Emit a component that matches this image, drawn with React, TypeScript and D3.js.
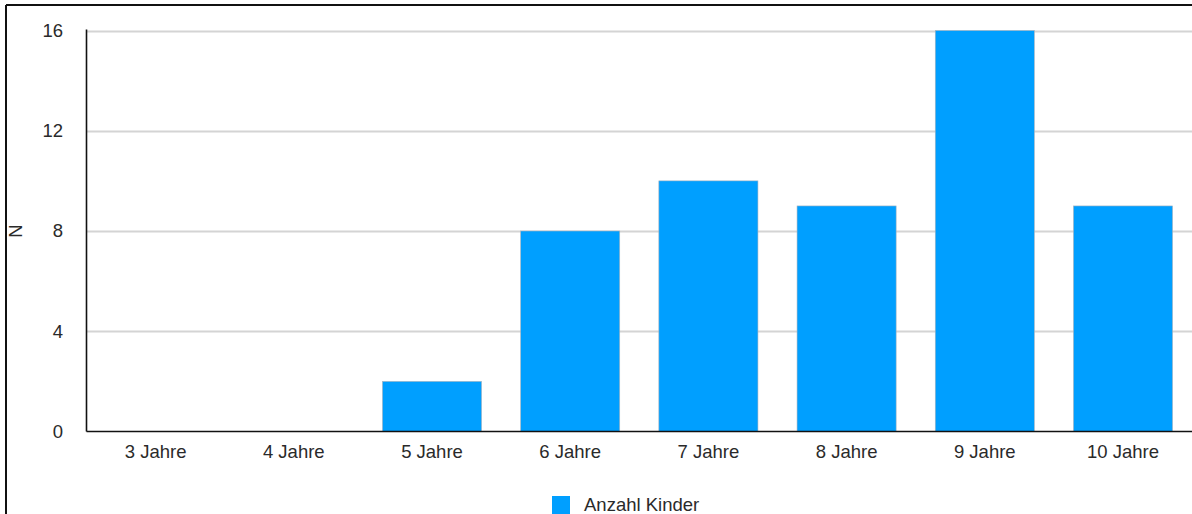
import React from "react";
import * as d3 from "d3";

const categories = ["3 Jahre", "4 Jahre", "5 Jahre", "6 Jahre", "7 Jahre", "8 Jahre", "9 Jahre", "10 Jahre"];
const values = [0, 0, 2, 8, 10, 9, 16, 9];
const yTicks = [0, 4, 8, 12, 16];
const seriesName = "Anzahl Kinder";
const yLabel = "N";

const W = 1192;
const H = 514;
const M = { left: 86.5, right: 2, top: 30.5, bottom: 83 };
const FONT = "'Liberation Sans', Arial, Helvetica, sans-serif";
const BAR = "#009FFF";
const FS = 18.5;

export default function App() {
  const x = d3.scaleBand<string>().domain(categories).range([M.left, M.left + 138.2 * 8]).paddingInner(0.283).paddingOuter(0.1415);
  const y = d3.scaleLinear().domain([0, 16]).range([H - M.bottom + 0.5, M.top]);
  return (
    <svg width={W} height={H} style={{ position: "absolute", left: 0, top: 0, background: "#fff" }} fontFamily={FONT}>
      {/* frame */}
      <line x1={6} x2={6} y1={5} y2={H} stroke="#111" strokeWidth={2} />
      <line x1={6} x2={W} y1={5} y2={5} stroke="#111" strokeWidth={2} />
      {/* grid */}
      {yTicks.filter(t => t > 0).map(t => (
        <line key={t} x1={M.left} x2={W} y1={Math.round(y(t)) + 0.5} y2={Math.round(y(t)) + 0.5} stroke="#d4d4d4" strokeWidth={2} />
      ))}
      {/* bars */}
      {categories.map((c, i) => values[i] > 0 && (
        <rect key={c} x={x(c)} y={y(values[i])} width={x.bandwidth()} height={y(0) - y(values[i])} fill={BAR} stroke="#a8b4bf" strokeWidth={0.6} />
      ))}
      {/* axes */}
      <line x1={M.left} x2={M.left} y1={M.top - 1} y2={y(0)} stroke="#111" strokeWidth={1.6} />
      <line x1={M.left} x2={W} y1={y(0)} y2={y(0)} stroke="#111" strokeWidth={1.6} />
      {yTicks.map(t => (
        <text key={t} x={63} y={y(t)} dy="0.35em" textAnchor="end" fontSize={FS} fill="#2a2a2a">{t}</text>
      ))}
      {categories.map(c => (
        <text key={c} x={(x(c) as number) + x.bandwidth() / 2} y={y(0) + 20} dy="0.35em" textAnchor="middle" fontSize={FS} fill="#2a2a2a">{c}</text>
      ))}
      <text transform={`translate(16,${(y(0) + y(16)) / 2}) rotate(-90)`} textAnchor="middle" dy="0.35em" fontSize={FS} fill="#2a2a2a">{yLabel}</text>
      {/* legend */}
      <rect x={552} y={496} width={18} height={20} fill={BAR} />
      <text x={584} y={505} dy="0.35em" fontSize={FS} fill="#2a2a2a">{seriesName}</text>
    </svg>
  );
}
